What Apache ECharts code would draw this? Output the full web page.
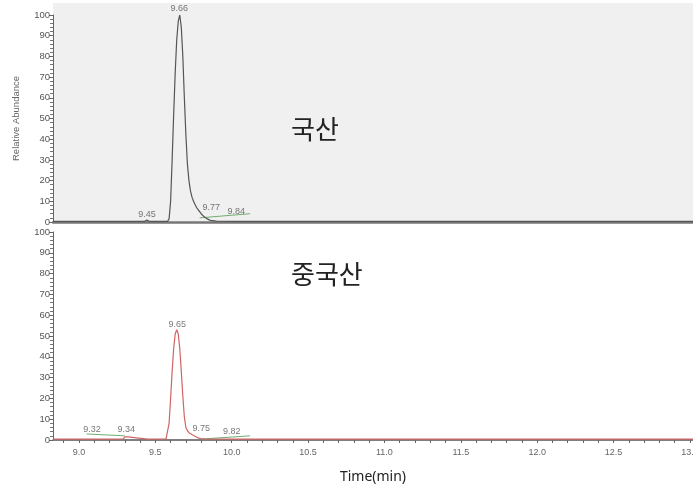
<!DOCTYPE html>
<html>
<head>
<meta charset="utf-8">
<script src="https://cdn.jsdelivr.net/npm/echarts@6/dist/echarts.min.js"></script>
<style>
  html, body { margin: 0; padding: 0; background: #fff; }
  #chart { width: 693px; height: 487px; }
</style>
</head>
<body>
<div id="chart"></div>
<script>
// time range of the chromatogram (min)
var timeMin = 8.83, timeMax = 13.02;
var xTickLabels = [9.0, 9.5, 10.0, 10.5, 11.0, 11.5, 12.0, 12.5, 13.0];
var xTicks = [
  8.9, 9.0, 9.1, 9.2, 9.3, 9.4, 9.5, 9.6, 9.7, 9.8, 9.9, 10.0, 10.1, 10.2, 10.3, 10.4,
  10.5, 10.6, 10.7, 10.8, 10.9, 11.0, 11.1, 11.2, 11.3, 11.4, 11.5, 11.6, 11.7, 11.8,
  11.9, 12.0, 12.1, 12.2, 12.3, 12.4, 12.5, 12.6, 12.7, 12.8, 12.9, 13.0
];

// 국산 trace (relative abundance)
var topTrace = [
  [8.83, 0.3], [9.0, 0.3], [9.3, 0.3], [9.43, 0.3], [9.445, 0.9], [9.46, 0.3],
  [9.58, 0.3], [9.59, 1.5], [9.60, 10], [9.61, 30], [9.62, 52], [9.63, 72],
  [9.64, 88], [9.65, 97], [9.66, 100], [9.67, 94], [9.68, 80], [9.69, 60],
  [9.70, 42], [9.71, 28], [9.72, 20], [9.73, 15], [9.74, 12], [9.75, 10],
  [9.76, 8.5], [9.77, 7], [9.78, 6], [9.79, 5], [9.80, 4], [9.82, 2.5],
  [9.84, 1.5], [9.86, 0.8], [9.9, 0.4], [10.0, 0.3], [11.0, 0.3], [12.0, 0.3], [13.02, 0.3]
];
// integration baseline (green) under the small peaks
var topBaseline = [[9.79, 2], [10.12, 4]];
var topPeakLabels = [
  [9.656, 103, '9.66'], [9.446, 3.6, '9.45'], [9.866, 7, '9.77'], [10.03, 5, '9.84']
];

// 중국산 trace
var bottomTrace = [
  [8.83, 0.4], [9.0, 0.4], [9.2, 0.4], [9.29, 0.5], [9.30, 1.5], [9.31, 2.3],
  [9.32, 1.5], [9.33, 0.6], [9.45, 0.4], [9.57, 0.5], [9.58, 1], [9.59, 8],
  [9.60, 20], [9.61, 33], [9.62, 44], [9.63, 51], [9.64, 53], [9.65, 51],
  [9.66, 44], [9.67, 33], [9.68, 21], [9.69, 11], [9.70, 6], [9.71, 4.5],
  [9.72, 3.5], [9.74, 2.6], [9.76, 1.8], [9.78, 1], [9.80, 0.6], [9.82, 0.5],
  [10.0, 0.4], [11.0, 0.4], [12.0, 0.4], [13.02, 0.4]
];
var bottomBaseline1 = [[9.05, 2.9], [9.30, 2]];
var bottomBaseline2 = [[9.81, 0.5], [10.12, 2]];
var bottomPeakLabels = [
  [9.643, 55.5, '9.65'], [9.085, 5, '9.32'], [9.31, 5, '9.34'], [9.80, 5.5, '9.75'], [10.0, 4, '9.82']
];

var chart = echarts.init(document.getElementById('chart'));

function yAxisCfg(grid, name) {
  return {
    type: 'value', gridIndex: grid, min: 0, max: 100, interval: 10,
    name: name, nameLocation: 'middle', nameGap: 32,
    nameTextStyle: { fontSize: 9.5, color: '#666', fontFamily: 'Liberation Sans' },
    axisLine: { show: true, lineStyle: { color: '#666', width: 1 } },
    axisTick: { show: true, length: 4, lineStyle: { color: '#666' } },
    minorTick: { show: true, splitNumber: 5, length: 3, lineStyle: { color: '#777' } },
    axisLabel: { fontSize: 9.5, color: '#555', margin: 3, fontFamily: 'Liberation Sans' },
    splitLine: { show: false }
  };
}

function labelSeries(xi, yi, labels) {
  return {
    type: 'scatter', xAxisIndex: xi, yAxisIndex: yi, symbolSize: 0, clip: false,
    silent: true,
    data: labels.map(function (l) { return { value: [l[0], l[1]], name: l[2] }; }),
    label: {
      show: true, position: 'inside', formatter: '{b}',
      fontSize: 9, color: '#555', fontFamily: 'Liberation Sans'
    }
  };
}

var option = {
  animation: false,
  backgroundColor: '#fff',
  graphic: [
    { type: 'rect', z: -10, shape: { x: 53, y: 3, width: 640, height: 219 }, style: { fill: '#f0f0f0' } },
    { type: 'text', left: 291, top: 116, style: { text: '국산', font: '26px "Noto Sans CJK KR"', fill: '#222' } },
    { type: 'text', left: 291, top: 261, style: { text: '중국산', font: '26px "Noto Sans CJK KR"', fill: '#222' } }
  ],
  grid: [
    { left: 53, right: 0, top: 15, height: 207, outerBoundsMode: 'none' },
    { left: 53, right: 0, top: 232, height: 208, outerBoundsMode: 'none' }
  ],
  xAxis: [
    {
      type: 'value', gridIndex: 0, min: timeMin, max: timeMax,
      axisLine: { show: true, onZero: false, lineStyle: { color: '#777', width: 2.5 } },
      axisTick: { show: false }, axisLabel: { show: false }, splitLine: { show: false }
    },
    {
      type: 'value', gridIndex: 1, min: timeMin, max: timeMax,
      name: 'Time(min)', nameLocation: 'middle', nameGap: 30,
      nameTextStyle: { fontSize: 14, color: '#222', fontFamily: 'Noto Sans' },
      axisLine: { show: true, onZero: false, lineStyle: { color: '#555', width: 1.5 } },
      axisTick: { show: true, length: 3, customValues: xTicks, lineStyle: { color: '#666' } },
      axisLabel: {
        fontSize: 9, color: '#666', margin: 8, fontFamily: 'Liberation Sans',
        customValues: xTickLabels,
        formatter: function (v) { return v.toFixed(1); }
      },
      splitLine: { show: false }
    }
  ],
  yAxis: [yAxisCfg(0, 'Relative Abundance'), yAxisCfg(1, '')],
  series: [
    {
      type: 'line', xAxisIndex: 0, yAxisIndex: 0, data: topTrace, symbol: 'none',
      lineStyle: { color: '#555', width: 1.2 }, z: 3
    },
    {
      type: 'line', xAxisIndex: 0, yAxisIndex: 0, data: topBaseline, symbol: 'none',
      lineStyle: { color: '#6fae6f', width: 1 }, z: 2
    },
    labelSeries(0, 0, topPeakLabels),
    {
      type: 'line', xAxisIndex: 1, yAxisIndex: 1, data: bottomTrace, symbol: 'none',
      lineStyle: { color: '#d06464', width: 1.2 }, z: 3
    },
    {
      type: 'line', xAxisIndex: 1, yAxisIndex: 1, data: bottomBaseline1, symbol: 'none',
      lineStyle: { color: '#6fae6f', width: 1 }, z: 2
    },
    {
      type: 'line', xAxisIndex: 1, yAxisIndex: 1, data: bottomBaseline2, symbol: 'none',
      lineStyle: { color: '#6fae6f', width: 1 }, z: 2
    },
    labelSeries(1, 1, bottomPeakLabels)
  ]
};

chart.setOption(option);
</script>
</body>
</html>
